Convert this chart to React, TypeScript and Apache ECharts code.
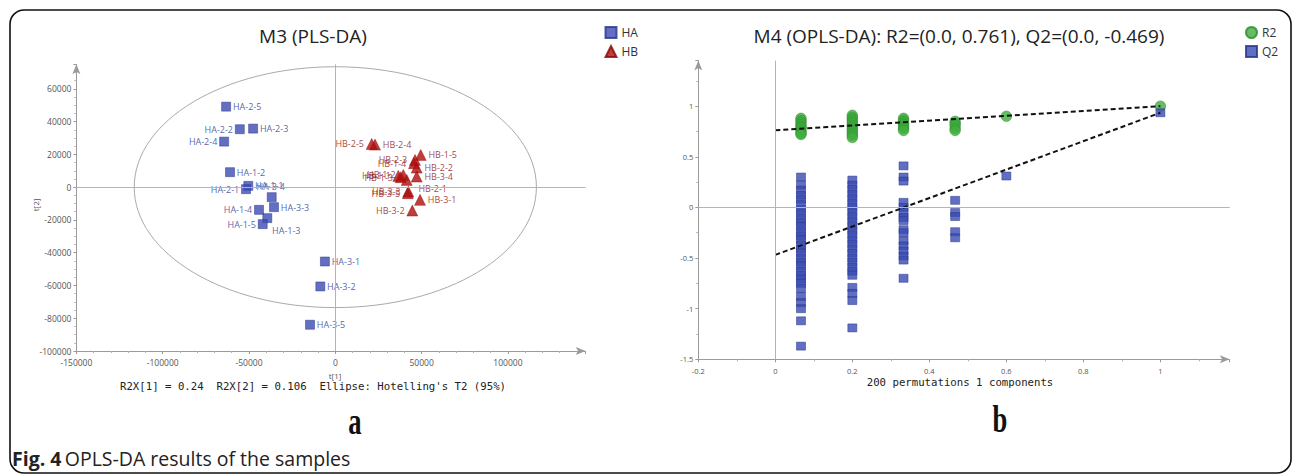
import React, { useEffect, useRef } from "react";
import * as echarts from "echarts";

// ---------- Panel a: PLS-DA scores ----------
const haNames = ["HA-1-1", "HA-1-2", "HA-1-3", "HA-1-4", "HA-1-5", "HA-2-1", "HA-2-2", "HA-2-3", "HA-2-4", "HA-2-5", "HA-3-1", "HA-3-2", "HA-3-3", "HA-3-4", "HA-3-5"];
const haT1 = [-50410, -61010, -39400, -44210, -42060, -51740, -55330, -47630, -64430, -63270, -6030, -8690, -35520, -36850, -14660];
const haT2 = [790, 9150, -18900, -13840, -22560, -1220, 35370, 35740, 27810, 49150, -45370, -60610, -12200, -6100, -83970];

const hbNames = ["HB-1-1", "HB-1-2", "HB-1-3", "HB-1-4", "HB-1-5", "HB-2-1", "HB-2-2", "HB-2-3", "HB-2-4", "HB-2-5", "HB-3-1", "HB-3-2", "HB-3-3", "HB-3-4", "HB-3-5"];
const hbT1 = [36500, 39400, 37870, 45600, 49480, 41370, 47160, 46180, 23000, 21090, 49080, 44620, 42300, 47160, 42000];
const hbT2 = [6890, 7500, 6100, 14630, 19700, 4450, 11950, 16650, 25980, 26400, -7740, -14260, -2680, 6470, -3660];

// Hotelling's T2 (95%) ellipse semi-axes
const ellipseT1 = 116500;
const ellipseT2 = 73500;

// ---------- Panel b: permutation test ----------
const permX = [0.0667, 0.2, 0.333, 0.467, 0.6, 1.0];
const r2Cols = [
  [0.88, 0.86, 0.84, 0.82, 0.8, 0.79, 0.77, 0.75, 0.73, 0.72],
  [0.91, 0.89, 0.87, 0.85, 0.83, 0.81, 0.79, 0.77, 0.75, 0.73, 0.71, 0.69],
  [0.88, 0.86, 0.84, 0.82, 0.8, 0.78, 0.76],
  [0.85, 0.83, 0.81, 0.78, 0.76],
  [0.9],
  [1.0],
];
const q2Cols = [
  [0.3, 0.22, 0.17, 0.12, 0.08, 0.03, -0.02, -0.06, -0.11, -0.15, -0.19, -0.24, -0.28, -0.32, -0.37, -0.41, -0.45, -0.5, -0.54, -0.58, -0.63, -0.67, -0.71, -0.75, -0.8, -0.88, -0.94, -1.0, -1.12, -1.37],
  [0.27, 0.22, 0.18, 0.13, 0.09, 0.04, 0.0, -0.05, -0.09, -0.14, -0.18, -0.23, -0.27, -0.32, -0.36, -0.41, -0.45, -0.5, -0.54, -0.59, -0.63, -0.67, -0.79, -0.85, -0.92, -1.19],
  [0.41, 0.3, 0.26, 0.05, 0.0, -0.05, -0.1, -0.13, -0.22, -0.25, -0.33, -0.38, -0.43, -0.48, -0.52, -0.7],
  [0.07, -0.05, -0.09, -0.24, -0.3],
  [0.31],
  [0.935],
];
const r2Intercept = 0.761;
const q2Intercept = -0.469;

// label sides (style)
const leftLabels = ["HA-2-2", "HA-2-4", "HA-2-1", "HA-1-4", "HA-1-5", "HB-1-1", "HB-1-2", "HB-1-3", "HB-1-4", "HB-2-3", "HB-2-5", "HB-3-2", "HB-3-3", "HB-3-5"];
const labelOffsets: Record<string, number[]> = { "HA-3-4": [-22, -11], "HA-1-3": [-2, 12], "HB-2-1": [4, 9] };

const FONT = '"Open Sans", sans-serif';
const HA_TEXT = "#2c3a8c";
const HB_TEXT = "#8e0f0f";

function scoreData(names: string[], xs: number[], ys: number[], color: string) {
  return names.map((n, i) => {
    const left = leftLabels.includes(n);
    const off = labelOffsets[n];
    const lab: any = { show: true, position: left ? "left" : "right", color, fontSize: 9, distance: 2, fontFamily: FONT };
    if (off) lab.offset = off;
    return { name: n, value: [xs[i], ys[i]], label: lab };
  });
}

function permData(cols: number[][]) {
  const out: number[][] = [];
  cols.forEach((c, i) => c.forEach((v) => out.push([permX[i], v])));
  return out;
}

const axisLineStyle = { color: "#9a9a9a", width: 1 };
const plain = (v: number) => String(Math.round(v * 1000) / 1000);

function buildOption(): any {
  return {
    animation: false,
    backgroundColor: "#fff",
    textStyle: { fontFamily: FONT },
    grid: [
      { left: 76.4, top: 64.3, width: 509.2, height: 286.7 },
      { left: 698.3, top: 60.6, width: 531.4, height: 298.7 },
    ],
    xAxis: [
      {
        gridIndex: 0, type: "value", min: -150000, max: 145000, interval: 50000,
        axisLine: { show: true, onZero: false, symbol: ["none", "arrow"], symbolSize: [6, 10], lineStyle: axisLineStyle },
        axisTick: { show: true, length: 3, lineStyle: { color: "#9a9a9a" } },
        minorTick: { show: true, splitNumber: 5, length: 2, lineStyle: { color: "#b0b0b0" } },
        axisLabel: { fontSize: 8.5, color: "#555", margin: 7, showMaxLabel: false, formatter: plain },
        splitLine: { show: false },
      },
      {
        gridIndex: 1, type: "value", min: -0.2, max: 1.18, interval: 0.2,
        axisLine: { show: true, onZero: false, symbol: ["none", "arrow"], symbolSize: [6, 10], lineStyle: axisLineStyle },
        axisTick: { show: true, length: 3, lineStyle: { color: "#9a9a9a" } },
        minorTick: { show: true, splitNumber: 2, length: 2, lineStyle: { color: "#b0b0b0" } },
        axisLabel: { fontSize: 7.5, color: "#555", margin: 8, showMaxLabel: false, formatter: plain },
        splitLine: { show: false },
      },
    ],
    yAxis: [
      {
        gridIndex: 0, type: "value", min: -100000, max: 75000, interval: 20000,
        axisLine: { show: true, onZero: false, symbol: ["none", "arrow"], symbolSize: [6, 10], lineStyle: axisLineStyle },
        axisTick: { show: true, length: 3, lineStyle: { color: "#9a9a9a" } },
        minorTick: { show: true, splitNumber: 4, length: 2, lineStyle: { color: "#b0b0b0" } },
        axisLabel: { fontSize: 8.5, color: "#555", margin: 5, showMaxLabel: false, formatter: plain },
        splitLine: { show: false },
      },
      {
        gridIndex: 1, type: "value", min: -1.5, max: 1.45, interval: 0.5,
        axisLine: { show: true, onZero: false, symbol: ["none", "arrow"], symbolSize: [6, 10], lineStyle: axisLineStyle },
        axisTick: { show: true, length: 3, lineStyle: { color: "#9a9a9a" } },
        minorTick: { show: true, splitNumber: 2, length: 2, lineStyle: { color: "#b0b0b0" } },
        axisLabel: { fontSize: 7.5, color: "#555", margin: 5, showMaxLabel: false, formatter: plain },
        splitLine: { show: false },
      },
    ],
    legend: [
      {
        data: ["HA", "HB"], left: 604.5, top: 26, orient: "vertical", itemWidth: 11, itemHeight: 11, itemGap: 6,
        textStyle: { fontSize: 12, color: "#333", fontFamily: FONT }, padding: 0,
      },
      {
        data: ["R2", "Q2"], left: 1245, top: 26, orient: "vertical", itemWidth: 11, itemHeight: 11, itemGap: 6,
        textStyle: { fontSize: 12, color: "#333", fontFamily: FONT }, padding: 0,
      },
    ],
    series: [
      {
        type: "custom", xAxisIndex: 0, yAxisIndex: 0, silent: true, z: 1,
        data: [[0, 0, ellipseT1, ellipseT2]],
        renderItem: (params: any, api: any) => {
          const c = api.coord([api.value(0), api.value(1)]);
          const s = api.size([api.value(2), api.value(3)]);
          return {
            type: "ellipse",
            shape: { cx: c[0], cy: c[1], rx: s[0], ry: s[1] },
            style: { fill: "none", stroke: "#aaaaaa", lineWidth: 1 },
          };
        },
      },
      {
        name: "HA", type: "scatter", xAxisIndex: 0, yAxisIndex: 0, symbol: "rect", symbolSize: 9, z: 3,
        itemStyle: { color: "#3b4bb3", borderColor: "#27348c", borderWidth: 0.6 },
        label: { show: true, formatter: "{b}", fontSize: 9, color: HA_TEXT, distance: 2, fontFamily: FONT },
        data: scoreData(haNames, haT1, haT2, HA_TEXT),
        markLine: {
          silent: true, symbol: ["none", "none"], label: { show: false },
          lineStyle: { color: "#b4b4b4", type: "solid", width: 1 },
          data: [{ xAxis: 0 }, { yAxis: 0 }],
        },
      },
      {
        name: "HB", type: "scatter", xAxisIndex: 0, yAxisIndex: 0, symbol: "triangle", symbolSize: 11, z: 3,
        itemStyle: { color: "#b00d0d", borderColor: "#8a0707", borderWidth: 0.5 },
        label: { show: true, formatter: "{b}", fontSize: 9, color: HB_TEXT, distance: 2, fontFamily: FONT },
        data: scoreData(hbNames, hbT1, hbT2, HB_TEXT),
      },
      {
        name: "R2", type: "scatter", xAxisIndex: 1, yAxisIndex: 1, symbol: "circle", symbolSize: 10.5, z: 3,
        itemStyle: { color: "#3fae3f", borderColor: "#2a8a2a", borderWidth: 0.6 },
        data: permData(r2Cols),
        markLine: {
          silent: true, symbol: ["none", "none"], label: { show: false },
          lineStyle: { color: "#b4b4b4", type: "solid", width: 1 },
          data: [{ xAxis: 0 }, { yAxis: 0 }],
        },
      },
      {
        name: "Q2", type: "scatter", xAxisIndex: 1, yAxisIndex: 1, symbol: "rect", symbolSize: [9, 8], z: 3,
        itemStyle: { color: "#3a4bb3", borderColor: "#253288", borderWidth: 0.6 },
        data: permData(q2Cols),
      },
      {
        type: "line", xAxisIndex: 1, yAxisIndex: 1, symbol: "none", z: 4, silent: true,
        lineStyle: { color: "#111", width: 2, type: [5, 3] },
        data: [[0, r2Intercept], [1, r2Cols[5][0]]],
      },
      {
        type: "line", xAxisIndex: 1, yAxisIndex: 1, symbol: "none", z: 4, silent: true,
        lineStyle: { color: "#111", width: 2, type: [5, 3] },
        data: [[0, q2Intercept], [1, q2Cols[5][0]]],
      },
    ],
    graphic: [
      {
        type: "rect", z: 0, silent: true,
        shape: { x: 10, y: 10, width: 1281, height: 463, r: 14 },
        style: { fill: "none", stroke: "#111", lineWidth: 1.6 },
      },
      {
        type: "text", x: 313, y: 36, silent: true,
        style: { text: "M3 (PLS-DA)", font: `19px ${FONT}`, fill: "#222", textAlign: "center", textVerticalAlign: "middle" },
      },
      {
        type: "text", x: 959, y: 36, silent: true,
        style: { text: "M4 (OPLS-DA): R2=(0.0, 0.761), Q2=(0.0, -0.469)", font: `19px ${FONT}`, fill: "#222", textAlign: "center", textVerticalAlign: "middle" },
      },
      {
        type: "text", x: 335, y: 375, silent: true,
        style: { text: "t[1]", font: `8px ${FONT}`, fill: "#555", textAlign: "center", textVerticalAlign: "middle" },
      },
      {
        type: "text", x: 35, y: 205, rotation: Math.PI / 2, silent: true,
        style: { text: "t[2]", font: `8px ${FONT}`, fill: "#555", textAlign: "center", textVerticalAlign: "middle" },
      },
      {
        type: "text", x: 313, y: 386, silent: true,
        style: { text: "R2X[1] = 0.24  R2X[2] = 0.106  Ellipse: Hotelling's T2 (95%)", font: '10.7px "DejaVu Sans Mono", monospace', fill: "#222", textAlign: "center", textVerticalAlign: "middle" },
      },
      {
        type: "text", x: 960, y: 382, silent: true,
        style: { text: "200 permutations 1 components", font: '10.7px "DejaVu Sans Mono", monospace', fill: "#222", textAlign: "center", textVerticalAlign: "middle" },
      },
      {
        type: "text", x: 355, y: 421, scaleX: 0.7, silent: true,
        style: { text: "a", font: 'bold 38px "Liberation Serif", serif', fill: "#111", textAlign: "center", textVerticalAlign: "middle" },
      },
      {
        type: "text", x: 1000, y: 419, scaleX: 0.7, silent: true,
        style: { text: "b", font: 'bold 38px "Liberation Serif", serif', fill: "#111", textAlign: "center", textVerticalAlign: "middle" },
      },
      {
        type: "text", x: 12, y: 458, silent: true,
        style: {
          text: "{b|Fig. 4} {r|OPLS-DA results of the samples}",
          textVerticalAlign: "middle",
          rich: {
            b: { font: `bold 19.5px ${FONT}`, fill: "#222" },
            r: { font: `19.5px ${FONT}`, fill: "#222" },
          },
        },
      },
    ],
  };
}

export default function App() {
  const ref = useRef<HTMLDivElement>(null);
  useEffect(() => {
    if (!ref.current) return;
    const chart = echarts.init(ref.current, undefined, { renderer: "svg" });
    chart.setOption(buildOption());
    return () => chart.dispose();
  }, []);
  return (
    <div
      ref={ref}
      style={{ position: "fixed", left: 0, top: 0, width: 1293, height: 476, background: "#fff" }}
    />
  );
}
